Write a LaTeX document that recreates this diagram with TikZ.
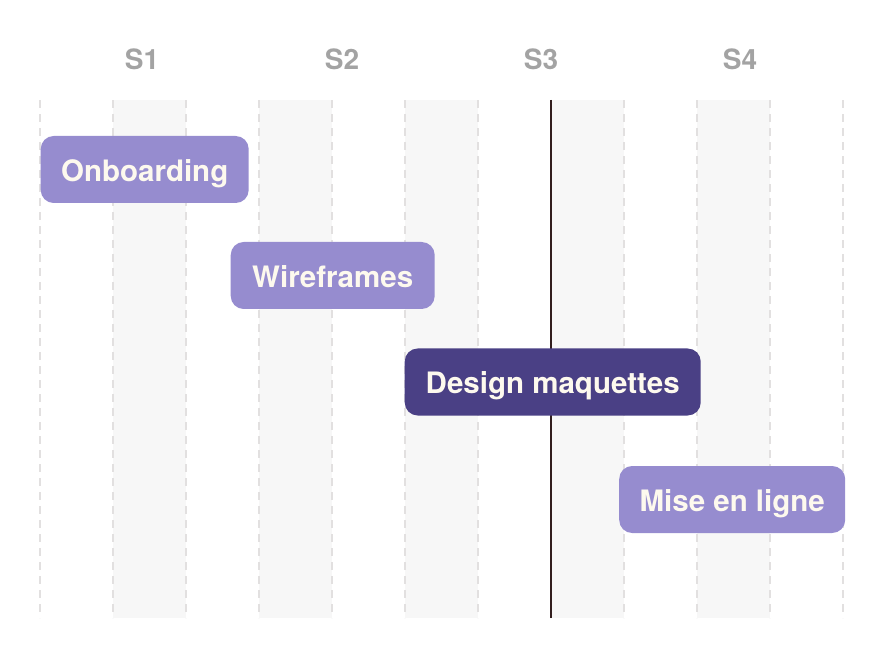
\documentclass[tikz,border=0pt]{standalone}
\usepackage{fontspec}
\setmainfont{TeX Gyre Heros}
\usepackage{xcolor}
\usepackage{tikz}
\definecolor{barlight}{RGB}{150, 140, 207}
\definecolor{bardark}{RGB}{74, 64, 133}
\definecolor{bartext}{RGB}{253, 249, 238}
\definecolor{headgray}{RGB}{163, 163, 163}
\definecolor{colshade}{RGB}{247, 247, 247}
\definecolor{gridgray}{RGB}{226, 224, 224}
\definecolor{todayline}{RGB}{50, 30, 30}

\tikzset{
    task/.style={rounded corners=13pt, anchor=west, minimum height=67pt,
        inner sep=0pt, text height=24pt, text depth=0pt, text=bartext,
        font=\fontsize{29.5}{32}\selectfont\bfseries},
    week/.style={text=headgray, font=\fontsize{28}{32}\selectfont\bfseries}
}

\begin{document}
\begin{tikzpicture}[x=1pt, y=-1pt]
    \useasboundingbox (0,0) rectangle (884,660);

    % Shaded columns
    \foreach \i in {1,3,5,7,9}
        \fill[colshade] ({40+73*\i},100) rectangle ({113+73*\i},618);

    % Dashed grid
    \foreach \i in {0,...,11}
        \draw[gridgray, line width=1.2pt, dash pattern=on 8pt off 6pt]
            ({40+73*\i},100) -- ({40+73*\i},618);

    % Week headers
    \node[week] (s1) at (142,59) {S1};
    \node[week] (s2) at (342,59) {S2};
    \node[week] (s3) at (541,59) {S3};
    \node[week] (s4) at (740,59) {S4};

    % Today marker
    \coordinate (nowtop) at (551,100);
    \coordinate (nowbot) at (551,618);
    \draw[todayline, line width=2pt] (nowtop) -- (nowbot);

    % Tasks
    \node[task, fill=barlight, minimum width=208pt] (onboard) at (40.5,169.5) {Onboarding};
    \node[task, fill=barlight, minimum width=204pt] (wire) at (230.5,275.5) {Wireframes};
    \node[task, fill=bardark, minimum width=296pt] (design) at (404.5,382) {Design maquettes};
    \node[task, fill=barlight, minimum width=226pt] (launch) at (619,499.5) {Mise en ligne};
\end{tikzpicture}
\end{document}
